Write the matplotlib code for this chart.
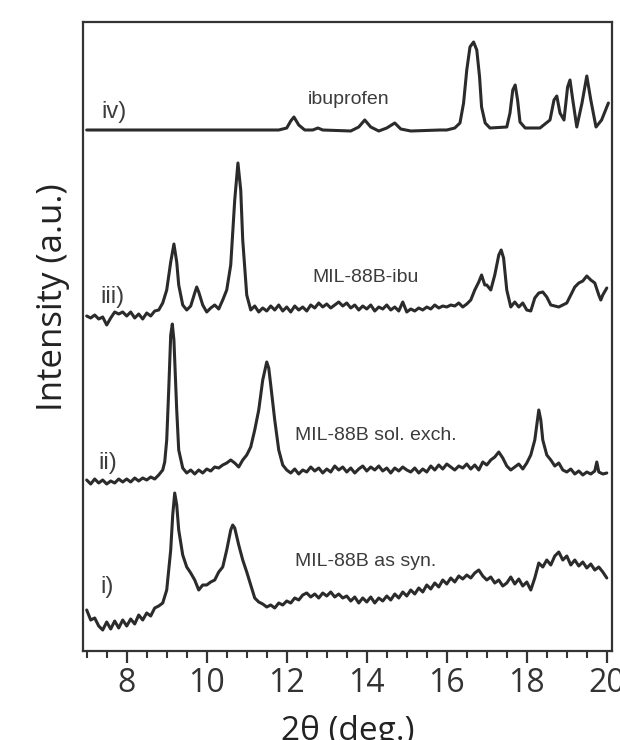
import matplotlib
matplotlib.use("Agg")
import matplotlib.pyplot as plt
from matplotlib.ticker import MultipleLocator

# ---------------- data ----------------
# i) MIL-88B as syn.
x_i = [7.0, 7.1, 7.2, 7.3, 7.4, 7.5, 7.6, 7.7, 7.8, 7.9, 8.0, 8.1, 8.2, 8.3, 8.4, 8.5, 8.6, 8.7, 8.8, 8.9,
       9.0, 9.1, 9.15, 9.2, 9.25, 9.3, 9.4, 9.5, 9.6, 9.7, 9.8, 9.9, 10.0, 10.1, 10.2, 10.3, 10.4, 10.5,
       10.6, 10.65, 10.7, 10.8, 10.9, 11.0, 11.1, 11.2, 11.3, 11.4, 11.5, 11.6, 11.7, 11.8, 11.9, 12.0,
       12.1, 12.2, 12.3, 12.4, 12.5, 12.6, 12.7, 12.8, 12.9, 13.0, 13.1, 13.2, 13.3, 13.4, 13.5, 13.6,
       13.7, 13.8, 13.9, 14.0, 14.1, 14.2, 14.3, 14.4, 14.5, 14.6, 14.7, 14.8, 14.9, 15.0, 15.1, 15.2,
       15.3, 15.4, 15.5, 15.6, 15.7, 15.8, 15.9, 16.0, 16.1, 16.2, 16.3, 16.4, 16.5, 16.6, 16.7, 16.8,
       16.9, 17.0, 17.1, 17.2, 17.3, 17.4, 17.5, 17.6, 17.7, 17.8, 17.9, 18.0, 18.1, 18.2, 18.3, 18.4,
       18.5, 18.6, 18.7, 18.8, 18.9, 19.0, 19.1, 19.2, 19.3, 19.4, 19.5, 19.6, 19.7, 19.8, 19.9, 20.0]
y_i = [15, 5, 7, -1, -5, 3, -4, 4, -3, 5, -1, 6, 1, 10, 5, 12, 9, 17, 19, 22,
       35, 75, 110, 132, 120, 95, 70, 58, 52, 45, 35, 40, 40, 43, 45, 53, 58, 75,
       95, 100, 97, 80, 65, 53, 40, 27, 23, 21, 18, 20, 17, 22, 20, 24,
       22, 27, 25, 30, 32, 28, 31, 27, 32, 29, 33, 28, 31, 27, 29, 24,
       28, 22, 27, 23, 28, 22, 27, 24, 29, 25, 31, 27, 33, 29, 35, 31,
       37, 33, 40, 36, 42, 38, 45, 41, 47, 43, 49, 46, 50, 47, 52, 55,
       49, 45, 48, 42, 45, 39, 42, 48, 41, 46, 39, 43, 35, 47, 62, 58,
       65, 60, 69, 73, 65, 69, 60, 65, 59, 63, 57, 61, 55, 58, 53, 47]

# ii) MIL-88B sol. exch.
x_ii = [7.0, 7.1, 7.2, 7.3, 7.4, 7.5, 7.6, 7.7, 7.8, 7.9, 8.0, 8.1, 8.2, 8.3, 8.4, 8.5, 8.6, 8.7, 8.8, 8.9,
        8.95, 9.0, 9.05, 9.1, 9.14, 9.18, 9.25, 9.3, 9.4, 9.5, 9.6, 9.7, 9.8, 9.9, 10.0, 10.1, 10.2, 10.3,
        10.4, 10.5, 10.6, 10.7, 10.8, 10.9, 11.0, 11.1, 11.2, 11.3, 11.4, 11.5, 11.55, 11.6, 11.7, 11.8,
        11.9, 12.0, 12.1, 12.2, 12.3, 12.4, 12.5, 12.6, 12.7, 12.8, 12.9, 13.0, 13.1, 13.2, 13.3, 13.4,
        13.5, 13.6, 13.7, 13.8, 13.9, 14.0, 14.1, 14.2, 14.3, 14.4, 14.5, 14.6, 14.7, 14.8, 14.9, 15.0,
        15.1, 15.2, 15.3, 15.4, 15.5, 15.6, 15.7, 15.8, 15.9, 16.0, 16.1, 16.2, 16.3, 16.4, 16.5, 16.6,
        16.7, 16.8, 16.9, 17.0, 17.1, 17.2, 17.3, 17.4, 17.5, 17.6, 17.7, 17.8, 17.9, 18.0, 18.1, 18.2,
        18.3, 18.35, 18.4, 18.5, 18.6, 18.7, 18.8, 18.9, 19.0, 19.1, 19.2, 19.3, 19.4, 19.5, 19.6, 19.7,
        19.75, 19.8, 19.9, 20.0]
y_ii = [5, 1, 6, 2, 5, 1, 4, 2, 6, 3, 6, 3, 7, 4, 7, 5, 8, 6, 10, 15,
        23, 45, 95, 150, 161, 145, 75, 35, 17, 12, 15, 11, 15, 12, 16, 14, 18, 17,
        20, 22, 25, 22, 18, 25, 30, 38, 55, 75, 105, 123, 117, 100, 65, 35,
        20, 15, 12, 16, 11, 15, 13, 18, 14, 17, 12, 16, 13, 19, 15, 18,
        13, 17, 12, 16, 19, 14, 18, 15, 19, 14, 17, 12, 17, 14, 18, 15,
        13, 17, 12, 16, 13, 19, 15, 20, 16, 21, 18, 15, 19, 17, 21, 16,
        20, 15, 23, 20, 25, 28, 33, 27, 19, 15, 18, 21, 16, 22, 30, 45,
        75, 65, 45, 30, 25, 19, 22, 15, 13, 16, 11, 14, 10, 13, 11, 14,
        23, 13, 11, 12]

# iii) MIL-88B-ibu
x_iii = [7.0, 7.1, 7.2, 7.3, 7.4, 7.5, 7.6, 7.7, 7.8, 7.9, 8.0, 8.1, 8.2, 8.3, 8.4, 8.5, 8.6, 8.7, 8.8, 8.9,
         9.0, 9.1, 9.18, 9.25, 9.3, 9.4, 9.5, 9.6, 9.7, 9.75, 9.8, 9.9, 10.0, 10.1, 10.2, 10.3, 10.4, 10.5,
         10.6, 10.7, 10.78, 10.85, 10.9, 11.0, 11.1, 11.2, 11.3, 11.4, 11.5, 11.6, 11.7, 11.8, 11.9, 12.0,
         12.1, 12.2, 12.3, 12.4, 12.5, 12.6, 12.7, 12.8, 12.9, 13.0, 13.1, 13.2, 13.3, 13.4, 13.5, 13.6,
         13.7, 13.8, 13.9, 14.0, 14.1, 14.2, 14.3, 14.4, 14.5, 14.6, 14.7, 14.8, 14.9, 15.0, 15.1, 15.2,
         15.3, 15.4, 15.5, 15.6, 15.7, 15.8, 15.9, 16.0, 16.1, 16.2, 16.3, 16.4, 16.5, 16.6, 16.7, 16.8,
         16.87, 16.95, 17.0, 17.1, 17.2, 17.3, 17.36, 17.42, 17.5, 17.6, 17.7, 17.8, 17.9, 18.0, 18.1,
         18.2, 18.3, 18.4, 18.5, 18.6, 18.7, 18.8, 18.9, 19.0, 19.1, 19.2, 19.3, 19.4, 19.5, 19.6, 19.7,
         19.8, 19.85, 19.9, 20.0]
y_iii = [9, 7, 10, 6, 8, 0, 7, 13, 11, 13, 9, 13, 7, 11, 6, 12, 9, 14, 15, 22,
         35, 63, 81, 63, 40, 20, 15, 19, 32, 38, 33, 20, 13, 17, 20, 16, 25, 35,
         60, 125, 162, 135, 85, 30, 15, 19, 13, 17, 14, 19, 15, 20, 14, 18,
         13, 19, 15, 18, 14, 20, 17, 22, 18, 21, 17, 20, 23, 19, 22, 17,
         20, 15, 19, 16, 20, 14, 18, 16, 20, 15, 18, 14, 23, 13, 16, 14,
         17, 15, 18, 16, 20, 17, 19, 18, 20, 19, 22, 18, 21, 25, 35, 43,
         50, 40, 40, 35, 50, 70, 75, 67, 35, 18, 23, 18, 22, 15, 14,
         27, 32, 33, 28, 20, 19, 18, 20, 22, 30, 38, 42, 44, 49, 45, 42,
         30, 25, 30, 37]

# iv) ibuprofen
x_iv = [7.0, 8.0, 9.0, 10.0, 11.0, 11.8, 12.0, 12.1, 12.18, 12.3, 12.45, 12.65, 12.78, 12.9, 13.6, 13.8,
        13.95, 14.1, 14.3, 14.5, 14.7, 14.85, 15.1, 15.83, 16.0, 16.2, 16.33, 16.42, 16.5, 16.58, 16.67,
        16.75, 16.82, 16.87, 16.96, 17.08, 17.5, 17.58, 17.65, 17.71, 17.77, 17.83, 17.96, 18.33, 18.58,
        18.68, 18.75, 18.83, 18.93, 19.02, 19.08, 19.15, 19.25, 19.38, 19.5, 19.6, 19.73, 19.87, 20.04]
y_iv = [1, 1, 1, 1, 1, 1, 3, 10, 14, 6, 1, 1, 3, 1, 0, 4,
        11, 4, 0, 3, 8, 2, 0, 1, 1, 3, 8, 28, 61, 84, 89,
        81, 54, 24, 8, 3, 4, 18, 41, 46, 31, 9, 3, 3, 11,
        31, 35, 18, 11, 44, 51, 31, 4, 28, 55, 31, 4, 11, 28]

series_x = [x_i, x_ii, x_iii, x_iv]
series_y = [y_i, y_ii, y_iii, y_iv]
numerals = ["i)", "ii)", "iii)", "iv)"]
names = ["MIL-88B as syn.", "MIL-88B sol. exch.", "MIL-88B-ibu", "ibuprofen"]

# ---------------- style / layout ----------------
offsets = [36, 176, 336, 530]
numeral_pos = [(7.34, 74), (7.29, 198), (7.34, 364), (7.36, 549)]
name_pos = [(12.2, 99, "left"), (12.2, 226, "left"), (12.65, 383, "left"), (13.55, 561, "center")]

line_color = "#2b2b2b"
text_color = "#3c3c3c"

W, H = 620, 740
ax_l, ax_r, ax_t, ax_b = 82.7, 612, 22, 651

fig = plt.figure(figsize=(6.2, 7.4), dpi=100)
ax = fig.add_axes([ax_l / W, 1 - ax_b / H, (ax_r - ax_l) / W, (ax_b - ax_t) / H])

for xs, ys, off in zip(series_x, series_y, offsets):
    ax.plot(xs, [v + off for v in ys], color=line_color, lw=2.2,
            solid_joinstyle="round", solid_capstyle="round")

for (tx, ty), lab in zip(numeral_pos, numerals):
    ax.text(tx, ty, lab, fontsize=17, color=text_color, ha="left", va="center",
            family="Liberation Sans")
for (tx, ty, ha), lab in zip(name_pos, names):
    ax.text(tx, ty, lab, fontsize=14, color=text_color, ha=ha, va="center",
            family="Liberation Sans")

ax.set_xlim(6.9, 20.13)
ax.set_ylim(10, 639)

ax.xaxis.set_major_locator(MultipleLocator(2))
ax.xaxis.set_minor_locator(MultipleLocator(0.5))
ax.set_yticks([])
ax.tick_params(axis="x", which="major", direction="out", length=8.6, width=1.6,
               color="#333333", labelsize=23, labelcolor="#333333", pad=3)
ax.tick_params(axis="x", which="minor", direction="out", length=5, width=1.5,
               color="#333333")
for lab in ax.get_xticklabels():
    lab.set_family("Open Sans")
for sp in ax.spines.values():
    sp.set_linewidth(1.6)
    sp.set_color("#333333")

ax.set_xlabel("2θ (deg.)", fontsize=24, color="#222222", family="Open Sans")
ax.xaxis.set_label_coords(0.5, -0.1017)
ax.set_ylabel("Intensity (a.u.)", fontsize=25, color="#222222", family="Open Sans")
ax.yaxis.set_label_coords(-0.024, 0.563)

fig.savefig("out.png", dpi=100)
